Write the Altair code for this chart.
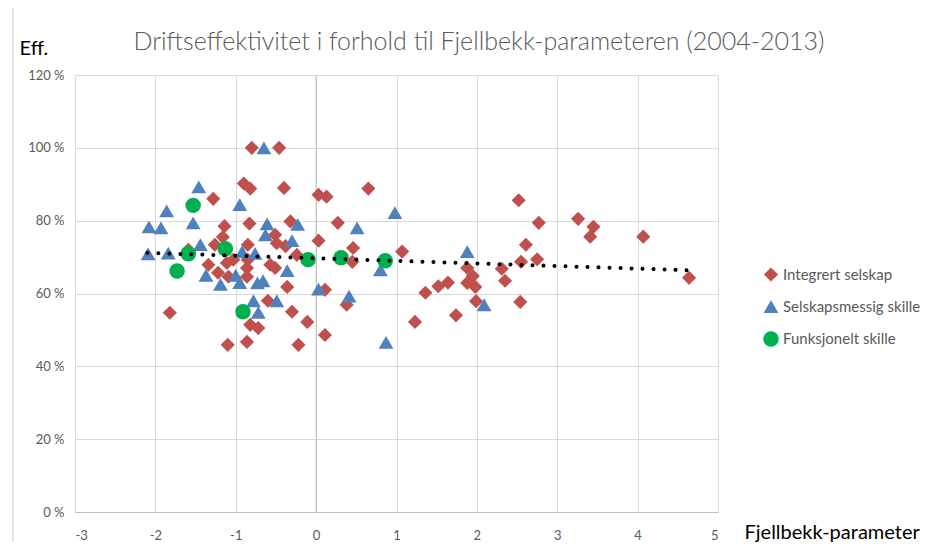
import altair as alt
import pandas as pd

# ---- data ----
series_names = ["Integrert selskap", "Selskapsmessig skille", "Funksjonelt skille"]

red_x = [-1.82, -1.59, -1.34, -1.22, -1.28, -1.16, -1.14, -1.26, -1.11, -1.09, -1.10, -1.03,
         -0.90, -0.82, -0.83, -0.85, -0.86, -0.86, -0.86, -0.82, -0.72, -0.80, -0.60, -0.57,
         -0.51, -0.49, -0.51, -0.46, -0.40, -0.38, -0.36, -0.32, -0.30, -0.24, -0.22, -0.11,
         0.03, 0.03, 0.13, 0.11, 0.11, 0.27, 0.38, 0.46, 0.45, 0.65, 1.07, 1.23, 1.36, 1.52,
         1.64, 1.74, 1.88, 1.95, 1.88, 1.98, 1.99, 2.31, 2.35, 2.52, 2.77, 2.61, 2.55, 2.75,
         2.54, 3.26, 3.45, 3.41, 4.07, 4.64, -0.85]
red_y = [54.7, 72.0, 67.9, 65.7, 86.0, 75.5, 78.5, 73.4, 68.4, 64.6, 45.9, 69.3,
         90.2, 88.8, 79.2, 73.4, 67.0, 64.6, 46.7, 51.4, 50.5, 100.0, 58.0, 67.9,
         76.1, 73.8, 67.0, 100.0, 89.0, 73.0, 61.8, 79.8, 55.0, 70.6, 45.9, 52.2,
         74.5, 87.1, 86.6, 61.0, 48.6, 79.4, 56.9, 72.5, 68.7, 88.8, 71.5, 52.2, 60.2, 62.0,
         63.0, 54.0, 67.0, 64.8, 62.9, 61.8, 57.9, 66.8, 63.5, 85.6, 79.4, 73.4, 68.7, 69.4,
         57.7, 80.5, 78.3, 75.6, 75.6, 64.3, 69.3]

blue_x = [-2.08, -1.93, -2.09, -1.84, -1.86, -1.46, -1.53, -1.44, -1.37, -1.19, -1.00, -0.95,
          -0.95, -0.92, -0.76, -0.73, -0.66, -0.78, -0.72, -0.65, -0.61, -0.63, -0.49, -0.36,
          -0.30, -0.23, 0.03, 0.41, 0.51, 0.80, 0.87, 0.98, 1.88, 2.09]
blue_y = [78.3, 78.0, 70.9, 71.1, 82.7, 89.3, 79.4, 73.4, 65.0, 62.5, 65.0, 63.0,
          84.4, 71.5, 71.0, 62.9, 63.5, 58.0, 54.8, 100.0, 79.1, 76.1, 58.0, 66.3,
          74.5, 79.0, 61.2, 59.3, 78.0, 66.5, 46.6, 82.2, 71.5, 56.9]

green_x = [-1.53, -1.59, -1.73, -1.13, -0.91, -0.10, 0.31, 0.86]
green_y = [84.2, 70.9, 66.2, 72.3, 55.0, 69.3, 69.8, 69.0]

x_ticks = [-3, -2, -1, 0, 1, 2, 3, 4, 5]
y_ticks = [0, 20, 40, 60, 80, 100, 120]

chart_title = "Driftseffektivitet i forhold til Fjellbekk-parameteren (2004-2013)"

rows = []
for name, xs, ys in zip(series_names, [red_x, blue_x, green_x], [red_y, blue_y, green_y]):
    for a, b in zip(xs, ys):
        rows.append({"x": a, "y": b, "serie": name})
df = pd.DataFrame(rows)
df["ord"] = range(len(df))

FONT = "Lato"
GRAY = "#595959"

xscale = alt.Scale(domain=[-3, 5], nice=False, zero=False)
yscale = alt.Scale(domain=[0, 120], nice=False)

legend_kw = dict(title=None, orient="none", legendX=688, legendY=192,
                 labelFont=FONT, labelFontSize=15, labelColor=GRAY,
                 symbolSize=90, rowPadding=16, labelOffset=4, symbolStrokeWidth=0)

base = alt.Chart(df)

points = base.mark_point(filled=True, opacity=1, strokeWidth=0).encode(
    x=alt.X("x:Q", scale=xscale,
            axis=alt.Axis(values=x_ticks, grid=True, gridColor="#d9d9d9", ticks=False,
                          domain=True, domainColor="#bfbfbf", labelExpr="'' + datum.value",
                          labelFont=FONT, labelFontSize=13, labelColor=GRAY, labelPadding=17,
                          title="Fjellbekk-parameter", titleFont=FONT, titleFontSize=20,
                          titleFontWeight="normal", titleColor="#000000",
                          titleX=669, titleY=20, titleAlign="left", titleBaseline="middle")),
    y=alt.Y("y:Q", scale=yscale,
            axis=alt.Axis(values=y_ticks, grid=True, gridColor="#d9d9d9", ticks=False,
                          domain=False, labelExpr="datum.value + ' %'",
                          labelFont=FONT, labelFontSize=13, labelColor=GRAY, labelPadding=11,
                          title="Eff.", titleFont=FONT, titleFontSize=20, titleFontWeight="normal",
                          titleColor="#000000", titleAngle=0, titleX=-56, titleY=-27,
                          titleAlign="left", titleBaseline="middle")),
    color=alt.Color("serie:N",
                    scale=alt.Scale(domain=series_names, range=["#C0504D", "#4F81BD", "#00B050"]),
                    legend=alt.Legend(**legend_kw)),
    shape=alt.Shape("serie:N",
                    scale=alt.Scale(domain=series_names, range=["diamond", "triangle-up", "circle"]),
                    legend=alt.Legend(**legend_kw)),
    size=alt.Size("serie:N", scale=alt.Scale(domain=series_names, range=[200, 240, 270]), legend=None),
    order=alt.Order("ord:Q"),
)

zero_line = alt.Chart(pd.DataFrame({"x": [0]})).mark_rule(color="#bfbfbf", strokeWidth=1).encode(
    x=alt.X("x:Q", scale=xscale)
)

border = alt.Chart(pd.DataFrame({"k": [0]})).mark_rule(color="#d0d0d0", strokeWidth=1).encode(
    x=alt.value(-62), y=alt.value(-67), y2=alt.value(467)
)

trend = base.transform_regression("x", "y", method="linear", extent=[-2.1, 4.64]).mark_line(
    color="#000000", strokeWidth=4, strokeDash=[0.01, 11], strokeCap="round"
).encode(x=alt.X("x:Q", scale=xscale), y=alt.Y("y:Q", scale=yscale))

title = alt.Chart(pd.DataFrame({"t": [chart_title]})).mark_text(
    font=FONT, fontSize=25, fontWeight=300, color=GRAY, align="center", baseline="middle"
).encode(x=alt.value(404), y=alt.value(-33), text="t:N")

chart = alt.layer(border, zero_line, points, trend, title).properties(
    width=643, height=437,
    autosize=alt.AutoSizeParams(type="none"),
    padding={"left": 67, "top": 67, "right": 208, "bottom": 30},
).configure_view(stroke=None).resolve_scale(color="shared", shape="shared")

chart.save("out.html", embed_options={"renderer": "svg", "actions": False})
